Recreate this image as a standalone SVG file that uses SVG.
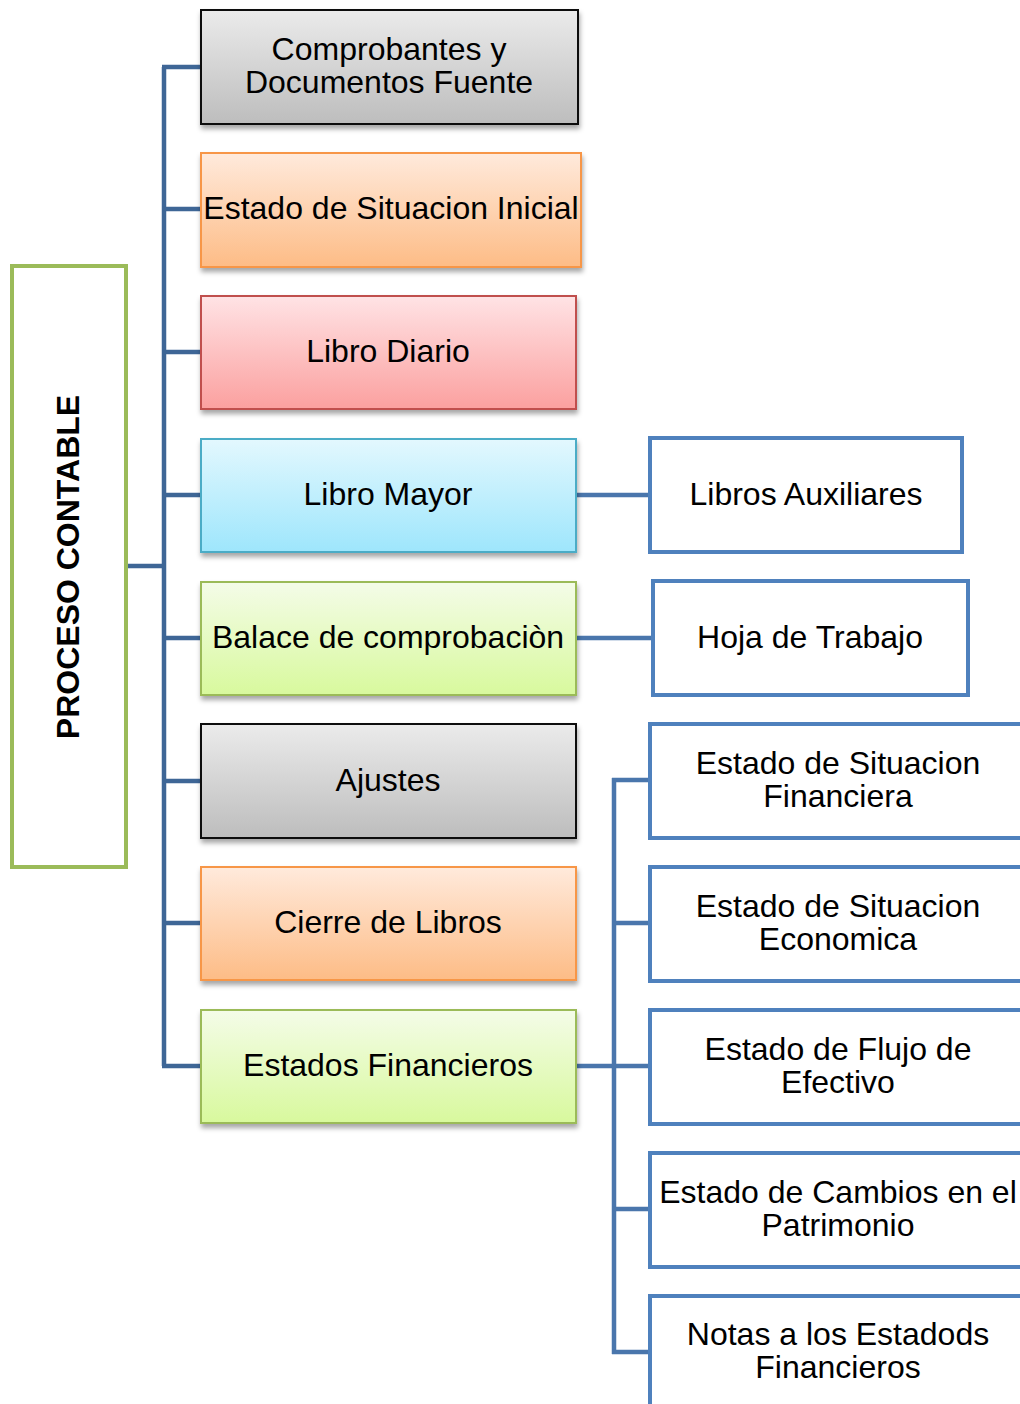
<svg xmlns="http://www.w3.org/2000/svg" width="1020" height="1404" viewBox="0 0 1020 1404">
<defs>
<linearGradient id="gGray" x1="0" y1="0" x2="0" y2="1"><stop offset="0" stop-color="#EBEBEB"/><stop offset="1" stop-color="#BDBDBD"/></linearGradient>
<linearGradient id="gOrange" x1="0" y1="0" x2="0" y2="1"><stop offset="0" stop-color="#FFEADC"/><stop offset="1" stop-color="#FDBC86"/></linearGradient>
<linearGradient id="gRed" x1="0" y1="0" x2="0" y2="1"><stop offset="0" stop-color="#FFE3E5"/><stop offset="1" stop-color="#FBA09F"/></linearGradient>
<linearGradient id="gBlue" x1="0" y1="0" x2="0" y2="1"><stop offset="0" stop-color="#E3F8FE"/><stop offset="1" stop-color="#9EE6FC"/></linearGradient>
<linearGradient id="gGreen" x1="0" y1="0" x2="0" y2="1"><stop offset="0" stop-color="#F4FCE8"/><stop offset="1" stop-color="#D8F99D"/></linearGradient>
<filter id="sh" x="-5%" y="-10%" width="115%" height="130%"><feDropShadow dx="1" dy="4" stdDeviation="2.5" flood-color="#000" flood-opacity="0.35"/></filter>
</defs>
<style>
text{font-family:"Liberation Sans",Arial,sans-serif;font-size:32px;fill:#000;text-anchor:middle}
.conn{fill:none;stroke:#3E6696;stroke-width:4.5;stroke-linejoin:miter;stroke-linecap:butt}
.conn2{fill:none;stroke:#4A76AC;stroke-width:4.5}
.main{stroke-width:2}
.gray{fill:url(#gGray);stroke:#111}
.orange{fill:url(#gOrange);stroke:#F79646}
.red{fill:url(#gRed);stroke:#C0504D}
.blue{fill:url(#gBlue);stroke:#4BACC6}
.green{fill:url(#gGreen);stroke:#9BBB59}
.out{fill:#fff;stroke:#4F81BD;stroke-width:4}
.root{fill:#fff;stroke:#9BBB59;stroke-width:4}
.bold{font-weight:bold}
</style>
<g id="connectors">
<path class="conn" d="M164 67 V1066"/>
<path class="conn" d="M127 566 H164"/>
<path class="conn" d="M162 67 H201 M164 209 H201 M164 352 H201 M164 495 H201 M164 638 H201 M164 781 H201 M164 923 H201 M162 1066 H201"/>
<path class="conn2" d="M577 495 H650 M577 638 H653 M577 1066 H614"/>
<path class="conn2" d="M614 778 V1354"/>
<path class="conn2" d="M612 780 H650 M614 923 H650 M614 1066 H650 M614 1209 H650 M612 1352 H650"/>
</g>
<g id="root"><rect class="root" x="12" y="266" width="114" height="601"/><text class="bold" transform="translate(79 567) rotate(-90)">PROCESO CONTABLE</text></g>
<g id="n1"><rect class="main gray" x="201" y="10" width="377" height="114" filter="url(#sh)"/><text x="389" y="60">Comprobantes y</text><text x="389" y="93">Documentos Fuente</text></g>
<g id="n2"><rect class="main orange" x="201" y="153" width="380" height="114" filter="url(#sh)"/><text x="391" y="219">Estado de Situacion Inicial</text></g>
<g id="n3"><rect class="main red" x="201" y="296" width="375" height="113" filter="url(#sh)"/><text x="388" y="362">Libro Diario</text></g>
<g id="n4"><rect class="main blue" x="201" y="439" width="375" height="113" filter="url(#sh)"/><text x="388" y="505">Libro Mayor</text></g>
<g id="n5"><rect class="main green" x="201" y="582" width="375" height="113" filter="url(#sh)"/><text x="388" y="648">Balace de comprobaciòn</text></g>
<g id="n6"><rect class="main gray" x="201" y="724" width="375" height="114" filter="url(#sh)"/><text x="388" y="791">Ajustes</text></g>
<g id="n7"><rect class="main orange" x="201" y="867" width="375" height="113" filter="url(#sh)"/><text x="388" y="933">Cierre de Libros</text></g>
<g id="n8"><rect class="main green" x="201" y="1010" width="375" height="113" filter="url(#sh)"/><text x="388" y="1076">Estados Financieros</text></g>
<g id="n9"><rect class="out" x="650" y="438" width="312" height="114"/><text x="806" y="505">Libros Auxiliares</text></g>
<g id="n10"><rect class="out" x="653" y="581" width="315" height="114"/><text x="810" y="648">Hoja de Trabajo</text></g>
<g id="n11"><rect class="out" x="650" y="724" width="380" height="114"/><text x="838" y="774">Estado de Situacion</text><text x="838" y="807">Financiera</text></g>
<g id="n12"><rect class="out" x="650" y="867" width="380" height="114"/><text x="838" y="917">Estado de Situacion</text><text x="838" y="950">Economica</text></g>
<g id="n13"><rect class="out" x="650" y="1010" width="380" height="114"/><text x="838" y="1060">Estado de Flujo de</text><text x="838" y="1093">Efectivo</text></g>
<g id="n14"><rect class="out" x="650" y="1153" width="380" height="114"/><text x="838" y="1203">Estado de Cambios en el</text><text x="838" y="1236">Patrimonio</text></g>
<g id="n15"><rect class="out" x="650" y="1296" width="380" height="130"/><text x="838" y="1345">Notas a los Estadods</text><text x="838" y="1378">Financieros</text></g>
</svg>
